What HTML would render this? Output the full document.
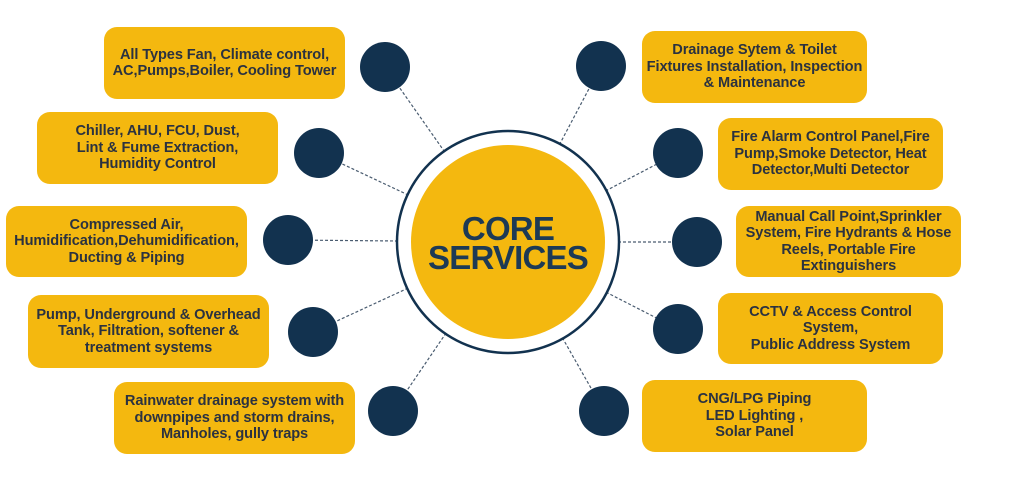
<!DOCTYPE html>
<html><head><meta charset="utf-8"><style>
body{margin:0;width:1024px;height:488px;background:#fff;position:relative;overflow:hidden;font-family:"Liberation Sans",sans-serif}
.b{position:absolute;background:#F4B80F;border-radius:13px;display:flex;align-items:center;justify-content:center;text-align:center;font-weight:bold;font-size:14.6px;line-height:16.5px;color:#2b3240;letter-spacing:-0.1px}
svg{position:absolute;left:0;top:0}
.c{position:absolute;left:410px;top:145px;width:196px;height:196px;display:flex;align-items:center;justify-content:center;text-align:center;font-weight:bold;font-size:33px;line-height:29px;color:#1d3a55;letter-spacing:-0.8px}
</style></head><body>
<svg width="1024" height="488">
<g stroke="#4a5c70" stroke-width="1.2" stroke-dasharray="3,2">
<line x1="508" y1="242" x2="385" y2="67"/>
<line x1="508" y1="242" x2="319" y2="153"/>
<line x1="508" y1="242" x2="288" y2="240"/>
<line x1="508" y1="242" x2="313" y2="332"/>
<line x1="508" y1="242" x2="393" y2="411"/>
<line x1="508" y1="242" x2="601" y2="66"/>
<line x1="508" y1="242" x2="678" y2="153"/>
<line x1="508" y1="242" x2="697" y2="242"/>
<line x1="508" y1="242" x2="678" y2="329"/>
<line x1="508" y1="242" x2="604" y2="411"/>
</g>
<circle cx="508" cy="242" r="111" fill="#fff" stroke="#12324F" stroke-width="2.5"/>
<circle cx="508" cy="242" r="97" fill="#F4B80F"/>
<g fill="#12324F">
<circle cx="385" cy="67" r="25"/><circle cx="319" cy="153" r="25"/><circle cx="288" cy="240" r="25"/><circle cx="313" cy="332" r="25"/><circle cx="393" cy="411" r="25"/>
<circle cx="601" cy="66" r="25"/><circle cx="678" cy="153" r="25"/><circle cx="697" cy="242" r="25"/><circle cx="678" cy="329" r="25"/><circle cx="604" cy="411" r="25"/>
</g>
</svg>
<div class="c">CORE<br>SERVICES</div>
<div class="b" style="left:104px;top:27px;width:241px;height:72px">All Types Fan, Climate control,<br>AC,Pumps,Boiler, Cooling Tower</div>
<div class="b" style="left:37px;top:112px;width:241px;height:72px">Chiller, AHU, FCU, Dust,<br>Lint &amp; Fume Extraction,<br>Humidity Control</div>
<div class="b" style="left:6px;top:206px;width:241px;height:71px">Compressed Air,<br>Humidification,Dehumidification,<br>Ducting &amp; Piping</div>
<div class="b" style="left:28px;top:295px;width:241px;height:73px">Pump, Underground &amp; Overhead<br>Tank, Filtration, softener &amp;<br>treatment systems</div>
<div class="b" style="left:114px;top:382px;width:241px;height:72px">Rainwater drainage system with<br>downpipes and storm drains,<br>Manholes, gully traps</div>
<div class="b" style="left:642px;top:31px;width:225px;height:72px">Drainage Sytem &amp; Toilet<br>Fixtures Installation, Inspection<br>&amp; Maintenance</div>
<div class="b" style="left:718px;top:118px;width:225px;height:72px">Fire Alarm Control Panel,Fire<br>Pump,Smoke Detector, Heat<br>Detector,Multi Detector</div>
<div class="b" style="left:736px;top:206px;width:225px;height:71px">Manual Call Point,Sprinkler<br>System, Fire Hydrants &amp; Hose<br>Reels, Portable Fire<br>Extinguishers</div>
<div class="b" style="left:718px;top:293px;width:225px;height:71px">CCTV &amp; Access Control<br>System,<br>Public Address System</div>
<div class="b" style="left:642px;top:380px;width:225px;height:72px">CNG/LPG Piping<br>LED Lighting ,<br>Solar Panel</div>
</body></html>
